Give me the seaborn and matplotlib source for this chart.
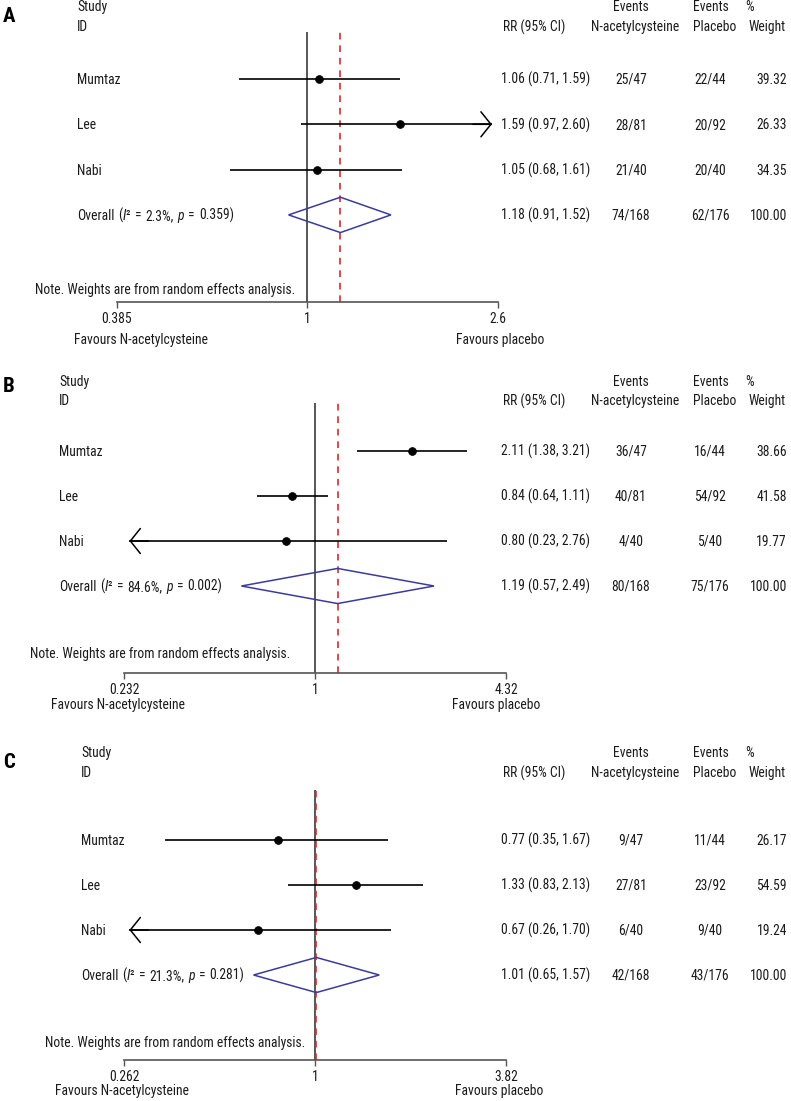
import os
import re
import numpy as np
import matplotlib
matplotlib.use("Agg")
import matplotlib.pyplot as plt
import matplotlib.transforms as mtransforms
import matplotlib.font_manager as fm
import seaborn as sns

# ---------------- data ----------------
studies = ["Mumtaz", "Lee", "Nabi"]

a_rr = [1.06, 1.59, 1.05]
a_lo = [0.71, 0.97, 0.68]
a_hi = [1.59, 2.60, 1.61]
a_nac = ["25/47", "28/81", "21/40"]
a_pla = ["22/44", "20/92", "20/40"]
a_w = ["39.32", "26.33", "34.35"]
a_overall = [1.18, 0.91, 1.52]
a_overall_ev = ["74/168", "62/176"]
a_het = ["2.3%", "0.359"]
a_ticks = [0.385, 1, 2.6]
a_ticklabels = ["0.385", "1", "2.6"]

b_rr = [2.11, 0.84, 0.80]
b_lo = [1.38, 0.64, 0.23]
b_hi = [3.21, 1.11, 2.76]
b_nac = ["36/47", "40/81", "4/40"]
b_pla = ["16/44", "54/92", "5/40"]
b_w = ["38.66", "41.58", "19.77"]
b_overall = [1.19, 0.57, 2.49]
b_overall_ev = ["80/168", "75/176"]
b_het = ["84.6%", "0.002"]
b_ticks = [0.232, 1, 4.32]
b_ticklabels = ["0.232", "1", "4.32"]

c_rr = [0.77, 1.33, 0.67]
c_lo = [0.35, 0.83, 0.26]
c_hi = [1.67, 2.13, 1.70]
c_nac = ["9/47", "27/81", "6/40"]
c_pla = ["11/44", "23/92", "9/40"]
c_w = ["26.17", "54.59", "19.24"]
c_overall = [1.01, 0.65, 1.57]
c_overall_ev = ["42/168", "43/176"]
c_het = ["21.3%", "0.281"]
c_ticks = [0.262, 1, 3.82]
c_ticklabels = ["0.262", "1", "3.82"]

# ---------------- style ----------------
sns.set_theme(style="white")
plt.rcParams["font.family"] = ["Liberation Sans", "DejaVu Sans"]

W, H = 791, 1101
fig = plt.figure(figsize=(W / 100, H / 100), dpi=100)
fig.patch.set_facecolor("white")
renderer = fig.canvas.get_renderer()

# ---- find a condensed / narrow sans font if one is installed ----
files = [e.fname for e in fm.fontManager.ttflist]
font_sets = [
    (r"^LiberationSansNarrow-Regular\.", r"^LiberationSansNarrow-Italic\.", r"^LiberationSansNarrow-Bold\."),
    (r"^RobotoCondensed-Regular\.", r"^RobotoCondensed-Italic\.", r"^RobotoCondensed-Bold\."),
    (r"^NotoSans-Condensed\.", r"^NotoSans-CondensedItalic\.", r"^NotoSans-CondensedBold\."),
    (r"^OpenSans_Condensed-Regular\.", r"^OpenSans_Condensed-Italic\.", r"^OpenSans_Condensed-Bold\."),
    (r"^DejaVuSansCondensed\.", r"^DejaVuSansCondensed-Oblique\.", r"^DejaVuSansCondensed-Bold\."),
]


def _find(pat):
    hit = [f for f in files if re.search(pat, os.path.basename(f))]
    return hit[0] if hit else None


REG = ITA = BLD = None
for rp, ip, bp in font_sets:
    r = _find(rp)
    if r:
        REG = fm.FontProperties(fname=r)
        i = _find(ip)
        ITA = fm.FontProperties(fname=i) if i else fm.FontProperties(fname=r)
        b = _find(bp)
        BLD = fm.FontProperties(fname=b) if b else fm.FontProperties(
            family=["Liberation Sans", "DejaVu Sans"], weight="bold")
        break
if REG is None:
    REG = fm.FontProperties(family=["Liberation Sans", "DejaVu Sans"])
    ITA = fm.FontProperties(family=["Liberation Sans", "DejaVu Sans"], style="italic")
    BLD = fm.FontProperties(family=["Liberation Sans", "DejaVu Sans"], weight="bold")


def text_w(s, prop):
    w1, _, _ = renderer.get_text_width_height_descent("X" + s + "X", prop, ismath=False)
    w0, _, _ = renderer.get_text_width_height_descent("XX", prop, ismath=False)
    return w1 - w0


# scale font so that "N-acetylcysteine" spans ~88 px like the reference
probe = REG.copy()
probe.set_size(10)
FS = 10 * 88.0 / text_w("N-acetylcysteine", probe)
FS = min(FS, 11.5)
REG.set_size(FS)
ITA.set_size(FS)
BLD.set_size(15)

TXT = "#1a1a1a"
DIAMOND = "#3b3b9e"
RED = "#e0262b"
GRAY = "#555555"


def fx(px):
    return px / W


def fy(py):
    return 1 - py / H


panels = [
    dict(letter="A", rr=a_rr, lo=a_lo, hi=a_hi, nac=a_nac, pla=a_pla, w=a_w,
         ov=a_overall, ov_ev=a_overall_ev, het=a_het, ticks=a_ticks, tl=a_ticklabels,
         top=32, axis=302, row1=79, sp=45.3, x0=117, x1=498,
         hdr=(7, 27), study_x=77, note=(35, 290), fav_y=340, fav=(141, 500), letter_y=16),
    dict(letter="B", rr=b_rr, lo=b_lo, hi=b_hi, nac=b_nac, pla=b_pla, w=b_w,
         ov=b_overall, ov_ev=b_overall_ev, het=b_het, ticks=b_ticks, tl=b_ticklabels,
         top=403, axis=673, row1=451, sp=45.0, x0=124, x1=506,
         hdr=(382, 401), study_x=59, note=(30, 654), fav_y=705, fav=(118, 496), letter_y=386),
    dict(letter="C", rr=c_rr, lo=c_lo, hi=c_hi, nac=c_nac, pla=c_pla, w=c_w,
         ov=c_overall, ov_ev=c_overall_ev, het=c_het, ticks=c_ticks, tl=c_ticklabels,
         top=790, axis=1060, row1=840, sp=45.0, x0=124, x1=506,
         hdr=(753, 773), study_x=81, note=(45, 1043), fav_y=1091, fav=(122, 499), letter_y=762),
]

COL_RR = 501
COL_NAC = 631
COL_PLA = 710
COL_PLA_HDR = 693
COL_W = 787
BASE_OFF = -0.36 * FS  # points: baseline below row centre
GAP = 1.0  # extra px per word space in the "Overall" label

for p in panels:
    ax = fig.add_axes([fx(p["x0"]), fy(p["axis"]), (p["x1"] - p["x0"]) / W,
                       (p["axis"] - p["top"]) / H])
    ax.set_xscale("log")
    lo_lim, hi_lim = p["ticks"][0], p["ticks"][-1]
    ax.set_xlim(lo_lim, hi_lim)
    ytop = 1 - (p["row1"] - p["top"]) / p["sp"]
    ybot = 1 + (p["axis"] - p["row1"]) / p["sp"]
    ax.set_ylim(ybot, ytop)
    ax.set_facecolor("none")
    for s in ["top", "right", "left"]:
        ax.spines[s].set_visible(False)
    ax.spines["bottom"].set_color(GRAY)
    ax.spines["bottom"].set_linewidth(1.2)
    ax.set_yticks([])
    ax.xaxis.set_minor_locator(matplotlib.ticker.NullLocator())
    ax.set_xticks(p["ticks"])
    ax.set_xticklabels(p["tl"], fontproperties=REG, color=TXT)
    ax.tick_params(axis="x", direction="out", length=4, width=1, color=GRAY, pad=3, bottom=True)

    rows = np.arange(1, len(studies) + 1)
    ov_row = len(studies) + 1

    # reference lines
    ax.axvline(1, color=GRAY, lw=1.4, zorder=1)
    ax.axvline(p["ov"][0], color=RED, lw=1.2, ls=(0, (4, 3.5)), zorder=2)

    # confidence intervals (clipped with arrows)
    lx = np.log(lo_lim)
    hx = np.log(hi_lim)
    span = hx - lx
    arrow = dict(arrowstyle="->,head_length=0.6,head_width=0.75", lw=1.1, color="black",
                 shrinkA=0, shrinkB=0, mutation_scale=12)
    for r, l, h in zip(rows, p["lo"], p["hi"]):
        l_cl = max(l, lo_lim)
        h_cl = min(h, hi_lim)
        if h >= hi_lim:
            tip = np.exp(hx - 0.016 * span)
            ax.hlines(r, l_cl, tip, color="black", lw=1.2, zorder=3)
            ax.annotate("", xy=(tip, r), xytext=(np.exp(np.log(tip) - 0.05 * span), r),
                        arrowprops=arrow, zorder=3)
        elif l <= lo_lim:
            tip = np.exp(lx + 0.014 * span)
            ax.hlines(r, tip, h_cl, color="black", lw=1.2, zorder=3)
            ax.annotate("", xy=(tip, r), xytext=(np.exp(np.log(tip) + 0.05 * span), r),
                        arrowprops=arrow, zorder=3)
        else:
            ax.hlines(r, l_cl, h_cl, color="black", lw=1.2, zorder=3)

    sns.scatterplot(x=p["rr"], y=rows, color="black", s=32, edgecolor="black",
                    linewidth=0.5, ax=ax, zorder=5, legend=False)

    # overall diamond
    ov, ol, oh = p["ov"]
    hh = 0.39
    ax.fill([ol, ov, oh, ov, ol], [ov_row, ov_row - hh, ov_row, ov_row + hh, ov_row],
            facecolor="none", edgecolor=DIAMOND, lw=1.1, zorder=4)

    # text columns (x in figure px, y in data rows)
    tr = mtransforms.blended_transform_factory(fig.transFigure, ax.transData)

    def row_text(xpx, r, s, ha, prop=REG, dx_pt=0.0):
        t_tr = mtransforms.offset_copy(tr, fig=fig, x=dx_pt, y=BASE_OFF, units="points")
        ax.text(fx(xpx), r, s, ha=ha, va="baseline", fontproperties=prop, color=TXT,
                transform=t_tr, clip_on=False)

    for r, name, rr, l, h, n1, n2, w in zip(rows, studies, p["rr"], p["lo"], p["hi"],
                                             p["nac"], p["pla"], p["w"]):
        row_text(p["study_x"], r, name, "left")
        row_text(COL_RR, r, f"{rr:.2f} ({l:.2f}, {h:.2f})", "left")
        row_text(COL_NAC, r, n1, "center")
        row_text(COL_PLA, r, n2, "center")
        row_text(COL_W, r, w, "right")

    # "Overall (I² = x%, p = y)" with italic I and p, built from pieces
    i2, pv = p["het"]
    pieces = [("Overall", REG), (None, None), ("(", REG), ("I", ITA), ("\u00b2", REG),
              (None, None), ("=", REG), (None, None), (f"{i2},", REG), (None, None),
              ("p", ITA), (None, None), ("=", REG), (None, None), (f"{pv})", REG)]
    space = text_w(" ", REG) + GAP
    cum_px = 0.0
    for s, prop in pieces:
        if s is None:
            cum_px += space
            continue
        row_text(p["study_x"], ov_row, s, "left", prop=prop, dx_pt=cum_px * 72 / 100)
        cum_px += text_w(s, prop)

    row_text(COL_RR, ov_row, f"{ov:.2f} ({ol:.2f}, {oh:.2f})", "left")
    row_text(COL_NAC, ov_row, p["ov_ev"][0], "center")
    row_text(COL_PLA, ov_row, p["ov_ev"][1], "center")
    row_text(COL_W, ov_row, "100.00", "right")

    # headers
    hk = dict(fontproperties=REG, color=TXT, va="center")
    y1, y2 = p["hdr"]
    fig.text(fx(p["study_x"]), fy(y1), "Study", ha="left", **hk)
    fig.text(fx(p["study_x"]), fy(y2), "ID", ha="left", **hk)
    fig.text(fx(COL_RR + 2), fy(y2), "RR (95% CI)", ha="left", **hk)
    fig.text(fx(COL_NAC), fy(y1), "Events", ha="center", **hk)
    fig.text(fx(COL_NAC + 4), fy(y2), "N-acetylcysteine", ha="center", **hk)
    fig.text(fx(COL_PLA_HDR), fy(y1), "Events", ha="left", **hk)
    fig.text(fx(COL_PLA_HDR), fy(y2), "Placebo", ha="left", **hk)
    fig.text(fx(745), fy(y1), "%", ha="left", **hk)
    fig.text(fx(COL_W - 1), fy(y2), "Weight", ha="right", **hk)

    # note & favours
    fig.text(fx(p["note"][0]), fy(p["note"][1]), "Note. Weights are from random effects analysis.",
             ha="left", **hk)
    fig.text(fx(p["fav"][0]), fy(p["fav_y"]), "Favours N-acetylcysteine", ha="center", **hk)
    fig.text(fx(p["fav"][1]), fy(p["fav_y"]), "Favours placebo", ha="center", **hk)

    # panel letter
    fig.text(fx(3), fy(p["letter_y"]), p["letter"], ha="left", va="center",
             fontproperties=BLD, color="black")

fig.savefig("out.png", dpi=100, facecolor="white")
